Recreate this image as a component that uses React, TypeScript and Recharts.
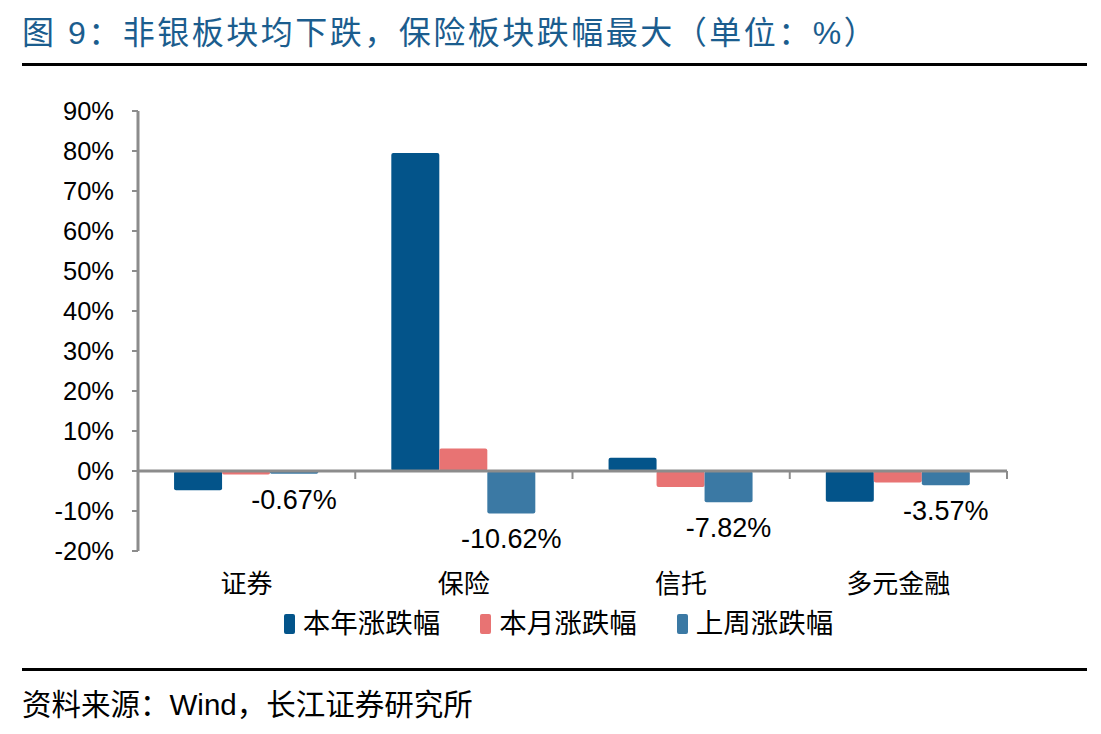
import React from 'react';
import { BarChart, Bar, XAxis, YAxis, ReferenceLine, LabelList } from 'recharts';

const categories = ['证券', '保险', '信托', '多元金融'];
const ytdChange = [-4.8, 79.5, 3.3, -7.7];
const mtdChange = [-0.9, 5.6, -4.0, -2.9];
const weekChange = [-0.67, -10.62, -7.82, -3.57];
const yTicks = [-20, -10, 0, 10, 20, 30, 40, 50, 60, 70, 80, 90];
const boundaryTicks = [1, 2, 3, 4];

const seriesNames = ['本年涨跌幅', '本月涨跌幅', '上周涨跌幅'];
const seriesColors = ['#03548a', '#e87373', '#3b79a4'];

const data = categories.map((c, i) => ({
  name: c,
  pos: i + 0.5,
  ytd: ytdChange[i],
  mtd: mtdChange[i],
  week: weekChange[i],
}));

const FONT = '"Liberation Sans", Arial, "Noto Sans CJK SC", sans-serif';
const AXIS = '#8c8c8c';

const BelowLabel = (props: any) => {
  const { x, y, width, height, value } = props;
  const bottom = Math.max(y, y + height);
  return (
    <text
      x={x + width / 2}
      y={bottom + 12}
      dy="0.85em"
      textAnchor="middle"
      fill="#000"
      fontSize={27}
      fontFamily={FONT}
    >
      {`${Number(value).toFixed(2)}%`}
    </text>
  );
};

export default function App() {
  return (
    <div style={{ position: 'absolute', left: 0, top: 0, width: 1101, height: 734, background: '#fff', fontFamily: FONT }}>
      <div style={{ position: 'absolute', left: 22, top: 12, fontSize: 32, color: '#1b5d8e', letterSpacing: 2.5, whiteSpace: 'nowrap', lineHeight: '42px' }}>
        图 9：非银板块均下跌，保险板块跌幅最大（单位：%）
      </div>
      <div style={{ position: 'absolute', left: 22, top: 63, width: 1065, height: 3, background: '#000' }} />
      <div style={{ position: 'absolute', left: 0, top: 0 }}>
        <BarChart
          width={1101}
          height={734}
          data={data}
          margin={{ top: 111, right: 94, bottom: 123, left: 0 }}
          barCategoryGap="16.6%"
          barGap={0}
        >
          <XAxis
            xAxisId="cat"
            dataKey="name"
            axisLine={false}
            tickLine={false}
            tickSize={0}
            tickMargin={24}
            height={60}
            interval={0}
            tick={{ fill: '#000', fontSize: 26, fontFamily: FONT }}
          />
          <XAxis xAxisId="b" type="number" dataKey="pos" domain={[0, 4]} height={0} hide />
          <YAxis
            width={138}
            domain={[-20, 90]}
            ticks={yTicks}
            interval={0}
            tickFormatter={(v) => `${v}%`}
            axisLine={{ stroke: AXIS, strokeWidth: 3 }}
            tickLine={{ stroke: AXIS, strokeWidth: 2 }}
            tickSize={6}
            tickMargin={18}
            tick={{ fill: '#000', fontSize: 25.5, fontFamily: FONT }}
          />
          <Bar xAxisId="cat" dataKey="ytd" name={seriesNames[0]} fill={seriesColors[0]} radius={2} isAnimationActive={false} />
          <Bar xAxisId="cat" dataKey="mtd" name={seriesNames[1]} fill={seriesColors[1]} radius={2} isAnimationActive={false} />
          <Bar xAxisId="cat" dataKey="week" name={seriesNames[2]} fill={seriesColors[2]} radius={2} isAnimationActive={false}>
            <LabelList dataKey="week" content={<BelowLabel />} />
          </Bar>
          <ReferenceLine xAxisId="cat" y={0} stroke={AXIS} strokeWidth={3} />
          {boundaryTicks.map((b) => (
            <ReferenceLine
              key={b}
              xAxisId="b"
              segment={[{ x: b, y: 0 }, { x: b, y: -2 }]}
              stroke={AXIS}
              strokeWidth={2}
            />
          ))}
        </BarChart>
      </div>
      <div style={{ position: 'absolute', top: 606, left: 0, width: 1101, display: 'flex', justifyContent: 'center', alignItems: 'center', fontFamily: FONT, fontSize: 27.5, color: '#000', paddingLeft: 16, boxSizing: 'border-box', lineHeight: '36px' }}>
        {seriesNames.map((n, i) => (
          <div key={n} style={{ display: 'flex', alignItems: 'center', marginRight: i < 2 ? 40 : 0 }}>
            <span style={{ display: 'inline-block', width: 11, height: 20, background: seriesColors[i], borderRadius: 2, marginRight: 8 }} />
            <span>{n}</span>
          </div>
        ))}
      </div>
      <div style={{ position: 'absolute', left: 22, top: 668, width: 1065, height: 3, background: '#000' }} />
      <div style={{ position: 'absolute', left: 22, top: 686, fontSize: 29.5, color: '#000', whiteSpace: 'nowrap', lineHeight: '38px' }}>
        资料来源：Wind，长江证券研究所
      </div>
    </div>
  );
}
